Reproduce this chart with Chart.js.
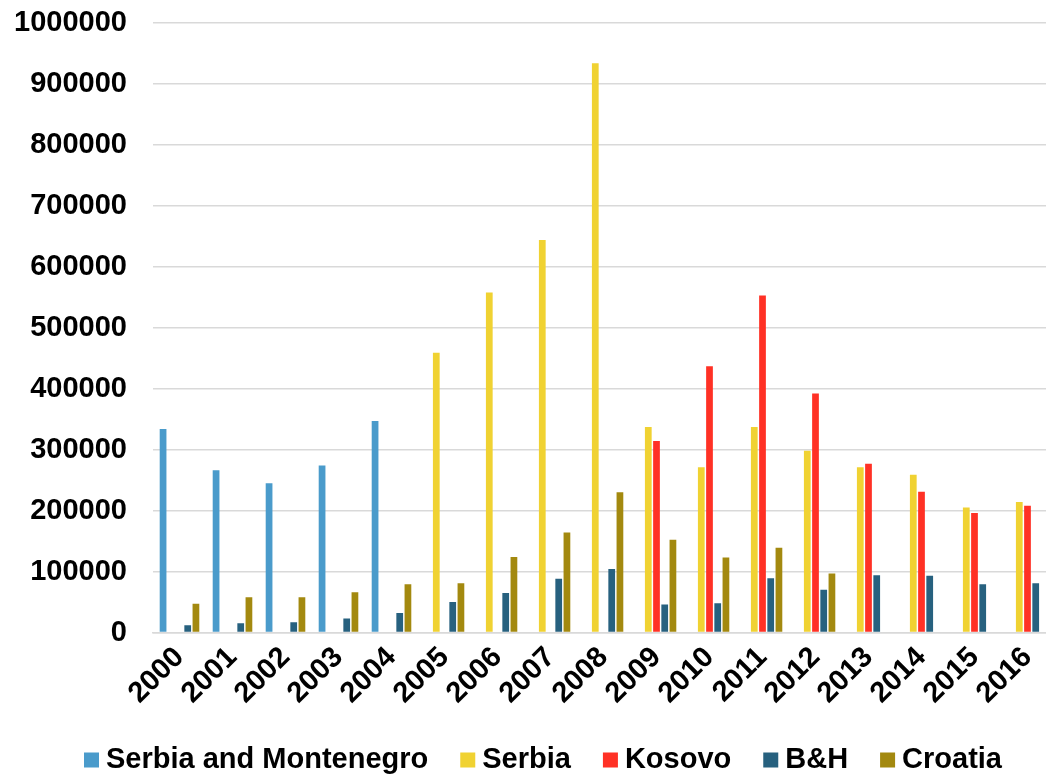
<!DOCTYPE html>
<html>
<head>
<meta charset="utf-8">
<title>Yearly values by country, 2000–2016</title>
<script src="https://cdn.jsdelivr.net/npm/chart.js@4/dist/chart.umd.min.js"></script>
<style>
  html, body { margin: 0; padding: 0; background: #ffffff; overflow: hidden; }
  #wrap { width: 1046px; height: 775px; position: relative; overflow: hidden; }
  #chart { position: absolute; left: 0; top: 0; }
</style>
</head>
<body>
<div id="wrap"><canvas id="chart" width="1054" height="775"></canvas></div>
<script>
// Categories (years)
const years = ['2000','2001','2002','2003','2004','2005','2006','2007','2008',
               '2009','2010','2011','2012','2013','2014','2015','2016'];

// Series values (null where a country has no figure for that year)
const serbiaMontenegro = [334000, 266000, 245000, 274000, 347000,
                          null, null, null, null, null, null, null, null, null, null, null, null];
const serbia = [null, null, null, null, null,
                459000, 558000, 644000, 934000, 337000, 271000, 337000, 298000, 271000, 259000, 205000, 214000];
const kosovo = [null, null, null, null, null, null, null, null, null,
                314000, 437000, 553000, 392000, 277000, 231000, 196000, 208000];
const bih = [12000, 15000, 17000, 23000, 32000, 50000, 65000, 88000, 104000,
             46000, 48000, 89000, 70000, 94000, 93000, 79000, 81000];
const croatia = [47000, 58000, 58000, 66000, 79000, 81000, 124000, 164000, 230000,
                 152000, 123000, 139000, 97000, null, null, null, null];

// Series names
const seriesNames = ['Serbia and Montenegro', 'Serbia', 'Kosovo', 'B&H', 'Croatia'];

// Y axis range
const yMin = 0;
const yMax = 1000000;
const yStep = 100000;

const colors = ['#4a9bcb', '#f0d232', '#ff3125', '#27617f', '#a3890f'];
const seriesData = [serbiaMontenegro, serbia, kosovo, bih, croatia];

const FONT = { family: "'Liberation Sans', Arial, Helvetica, sans-serif", size: 29, weight: 'bold' };

const datasets = seriesNames.map((name, i) => ({
  label: name,
  data: seriesData[i],
  backgroundColor: colors[i],
  borderWidth: 0,
  categoryPercentage: 0.775,
  barPercentage: 0.82
}));

// Legend row under the plot: small square, short gap, then the series name
const legendRow = {
  id: 'legendRow',
  afterDraw(chart) {
    const ctx = chart.ctx;
    const box = 15, textGap = 7, itemGap = 32;
    const left = 84, centerY = 760;
    ctx.save();
    ctx.font = `${FONT.weight} ${FONT.size}px ${FONT.family}`;
    ctx.textBaseline = 'middle';
    ctx.textAlign = 'left';
    let x = left;
    chart.data.datasets.forEach((ds) => {
      ctx.fillStyle = ds.backgroundColor;
      ctx.fillRect(x, centerY - box / 2, box, box);
      x += box + textGap;
      ctx.fillStyle = '#000000';
      ctx.fillText(ds.label, x, centerY);
      x += ctx.measureText(ds.label).width + itemGap;
    });
    ctx.restore();
  }
};

new Chart(document.getElementById('chart'), {
  type: 'bar',
  data: { labels: years, datasets },
  plugins: [legendRow],
  options: {
    responsive: false,
    animation: false,
    devicePixelRatio: 1,
    layout: { padding: { top: 23, right: 0, bottom: 0, left: 0 } },
    plugins: {
      legend: { display: false },
      tooltip: { enabled: false }
    },
    scales: {
      x: {
        grid: { display: false, drawTicks: false },
        border: { display: true, color: '#d9d9d9', width: 1.5 },
        ticks: {
          color: '#000000',
          font: FONT,
          minRotation: 45,
          maxRotation: 45,
          padding: 8,
          autoSkip: false
        },
        afterFit(scale) {
          scale.height = 142.5;
          scale.paddingLeft = 0;
          scale.paddingRight = 0;
        }
      },
      y: {
        min: yMin,
        max: yMax,
        grid: { color: '#d9d9d9', lineWidth: 1.5, drawTicks: false },
        border: { display: false },
        ticks: {
          stepSize: yStep,
          color: '#000000',
          font: FONT,
          padding: 26,
          callback: (v) => String(v)
        },
        afterFit(scale) {
          scale.width = 153;
          scale.paddingTop = 0;
          scale.paddingBottom = 0;
        }
      }
    }
  }
});
</script>
</body>
</html>
